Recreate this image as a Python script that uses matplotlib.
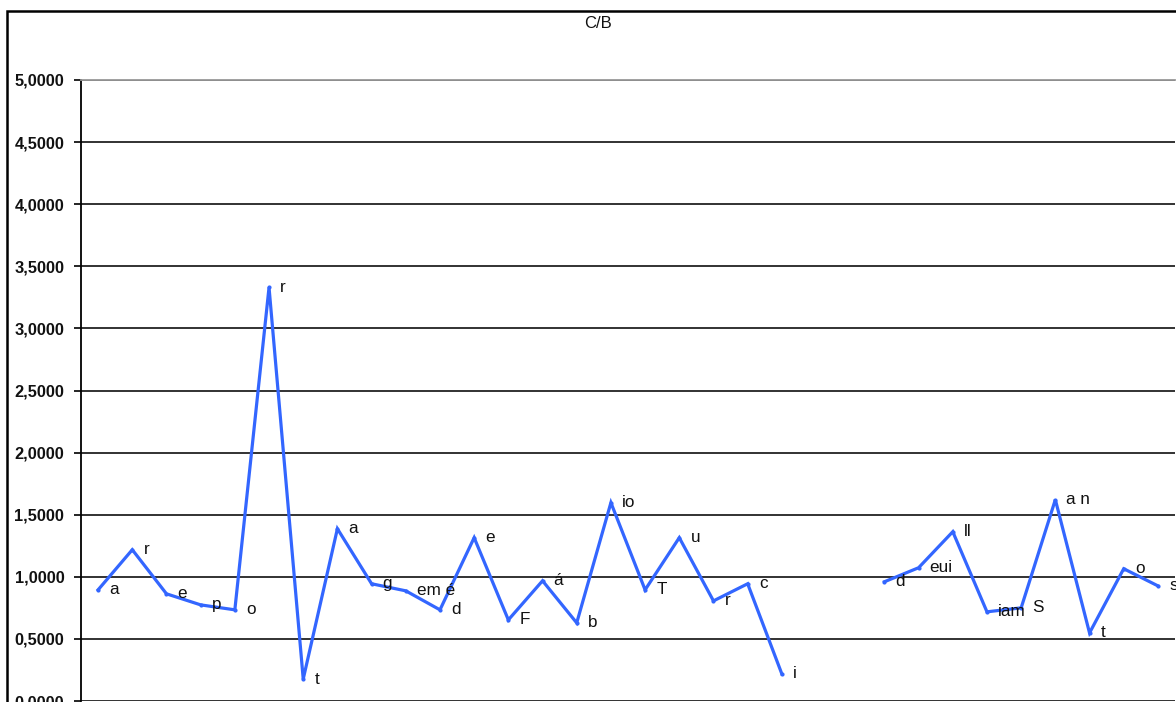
import numpy as np
import matplotlib
matplotlib.use("Agg")
import matplotlib.pyplot as plt
from matplotlib.patches import Rectangle
from matplotlib.ticker import FuncFormatter

plt.rcParams["font.family"] = ["Liberation Sans", "DejaVu Sans"]

# values (two gaps in the middle of the series)
values = [0.895, 1.218, 0.863, 0.774, 0.734, 3.33, 0.177, 1.387, 0.944, 0.887,
          0.734, 1.315, 0.653, 0.968, 0.629, 1.597, 0.895, 1.315, 0.806, 0.944,
          0.218, np.nan, np.nan, 0.960, 1.073, 1.363, 0.718, 0.750, 1.621, 0.548,
          1.065, 0.927]
labels = ["a", "r", "e", "p", "o", "r", "t", "a", "g", "em é",
          "d", "e", "F", "á", "b", "io", "T", "u", "r", "c",
          "i", "", "", "d", "eui", "ll", "iam", "S", "a n", "t",
          "o", "s"]
yticks = [0, 0.5, 1, 1.5, 2, 2.5, 3, 3.5, 4, 4.5, 5]

W, H = 1176, 702
fig = plt.figure(figsize=(W / 100, H / 100), dpi=100)

# chart border (cropped on the right and bottom in the reference)
fig.patches.append(Rectangle((7 / W, -0.1), 1.2, 1 - 11 / H + 0.1,
                             transform=fig.transFigure, fill=False,
                             edgecolor="black", linewidth=1.8))

ax = fig.add_axes([81 / W, 1 - 701 / H, 1094 / W, 621 / H])
x = np.arange(1, len(values) + 1)
ax.plot(x, values, color="#3366FF", linewidth=2.3, marker="o", markersize=2,
        solid_joinstyle="miter")

for xi, v, lab in zip(x, values, labels):
    if np.isnan(v) or not lab:
        continue
    ax.annotate(lab, (xi, v), xytext=(8, 0), textcoords="offset points",
                ha="left", va="center", fontsize=12.3, color="#111111",
                annotation_clip=False)

ax.set_xlim(0.5, len(values) + 0.5)
ax.set_ylim(0, 5)
ax.set_yticks(yticks)
ax.yaxis.set_major_formatter(FuncFormatter(lambda v, p: f"{v:.4f}".replace(".", ",")))
ax.set_xticks([])
ax.tick_params(axis="y", length=5, width=1.2, direction="out", pad=7,
               labelsize=11.8, labelcolor="#111111")
for t in ax.get_yticklabels():
    t.set_fontweight("bold")
ax.grid(axis="y", color="#222222", linewidth=1.3)
ax.set_axisbelow(True)
for s in ["right", "bottom"]:
    ax.spines[s].set_visible(False)
ax.spines["top"].set_color("#999999")
ax.spines["top"].set_linewidth(1.3)
ax.spines["left"].set_linewidth(1.3)

fig.text(598 / W, 1 - 23 / H, "C/B", ha="center", va="center", fontsize=12,
         color="#111111")

fig.savefig("out.png", dpi=100)
